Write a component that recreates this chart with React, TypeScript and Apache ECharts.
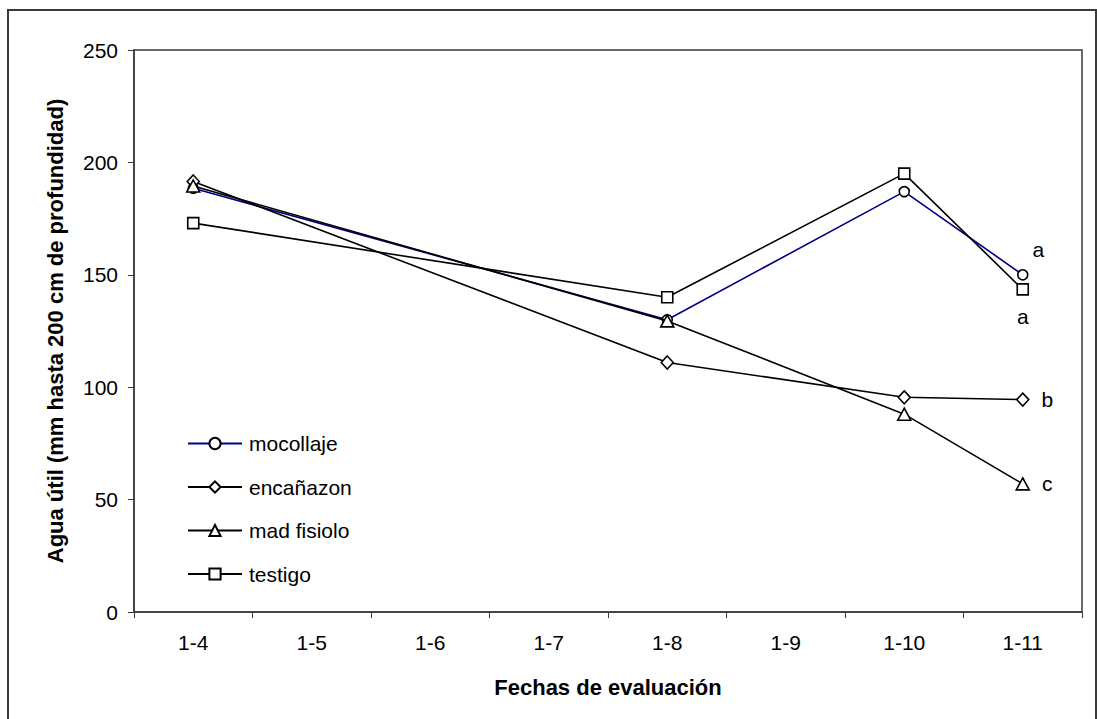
import React, { useEffect, useRef } from "react";
import * as echarts from "echarts";

const categories = ["1-4", "1-5", "1-6", "1-7", "1-8", "1-9", "1-10", "1-11"];
const mocollaje = [188.5, null, null, null, 130, null, 187, 150];
const encanazon = [191.5, null, null, null, 111, null, 95.5, 94.5];
const madFisiolo = [189.5, null, null, null, 129.5, null, 88, 57];
const testigo = [173, null, null, null, 140, null, 195, 143.5];
const seriesNames = ["mocollaje", "encañazon", "mad fisiolo", "testigo"];
const endLetters = ["a", "b", "c", "a"];
const yTicks = [0, 50, 100, 150, 200, 250];

const FONT = "'Liberation Sans', Arial, sans-serif";

function withEndLabel(values: (number | null)[], letter: string, label: any) {
  return values.map((v, i) =>
    i === values.length - 1 && v != null
      ? { value: v, label: { show: true, formatter: letter, ...label } }
      : v
  );
}

export default function App() {
  const ref = useRef<HTMLDivElement>(null);
  useEffect(() => {
    if (!ref.current) return;
    const chart = echarts.init(ref.current, undefined, { renderer: "svg" });
    const labelText = { color: "#000", fontSize: 21, fontFamily: FONT };
    const common = {
      type: "line",
      connectNulls: true,
      showAllSymbol: true,
      itemStyle: { color: "#fff", borderColor: "#000", borderWidth: 1.6 },
      emphasis: { disabled: true },
    };
    chart.setOption({
      animation: false,
      backgroundColor: "#fff",
      graphic: [
        {
          type: "rect",
          shape: { x: 8, y: 10, width: 1088, height: 730 },
          style: { fill: "none", stroke: "#3a3a3a", lineWidth: 2 },
          silent: true,
        },
      ],
      grid: {
        left: 134,
        top: 50,
        right: 15,
        bottom: 107,
        show: true,
        borderColor: "#3a3a3a",
        borderWidth: 1.5,
        backgroundColor: "transparent",
      },
      legend: {
        left: 182,
        top: 428,
        orient: "vertical",
        itemWidth: 54,
        itemHeight: 14,
        itemGap: 22.5,
        data: seriesNames,
        textStyle: { color: "#000", fontSize: 21, fontFamily: FONT, padding: [0, 0, 0, 2] },
      },
      xAxis: {
        type: "category",
        data: categories,
        boundaryGap: true,
        name: "Fechas de evaluación",
        nameLocation: "middle",
        nameGap: 64,
        nameTextStyle: { color: "#000", fontSize: 22, fontWeight: "bold", fontFamily: FONT },
        axisLine: { lineStyle: { color: "#3a3a3a", width: 1.5 } },
        axisTick: { show: true, length: 6, inside: false, lineStyle: { color: "#3a3a3a" } },
        axisLabel: { color: "#000", fontSize: 21, fontFamily: FONT, margin: 20 },
        splitLine: { show: false },
      },
      yAxis: {
        type: "value",
        min: yTicks[0],
        max: yTicks[yTicks.length - 1],
        interval: 50,
        name: "Agua útil (mm hasta 200 cm de profundidad)",
        nameLocation: "middle",
        nameGap: 68,
        nameTextStyle: { color: "#000", fontSize: 22, fontWeight: "bold", fontFamily: FONT },
        axisLine: { show: true, lineStyle: { color: "#3a3a3a", width: 1.5 } },
        axisTick: { show: true, length: 6, lineStyle: { color: "#3a3a3a" } },
        axisLabel: { color: "#000", fontSize: 21, fontFamily: FONT, margin: 16 },
        splitLine: { show: false },
      },
      series: [
        {
          ...common,
          name: seriesNames[0],
          data: withEndLabel(mocollaje, endLetters[0], { ...labelText, position: "right", distance: 4, offset: [0, -25] }),
          symbol: "circle",
          symbolSize: 10,
          lineStyle: { color: "#000080", width: 1.6 },
          z: 2,
        },
        {
          ...common,
          name: seriesNames[1],
          data: withEndLabel(encanazon, endLetters[1], { ...labelText, position: "right", distance: 12 }),
          symbol: "diamond",
          symbolSize: [12, 13],
          lineStyle: { color: "#000", width: 1.6 },
          z: 3,
        },
        {
          ...common,
          name: seriesNames[2],
          data: withEndLabel(madFisiolo, endLetters[2], { ...labelText, position: "right", distance: 12 }),
          symbol: "triangle",
          symbolSize: [13, 12],
          lineStyle: { color: "#000", width: 1.6 },
          z: 4,
        },
        {
          ...common,
          name: seriesNames[3],
          data: withEndLabel(testigo, endLetters[3], { ...labelText, position: "bottom", distance: 10 }),
          symbol: "rect",
          symbolSize: 11,
          lineStyle: { color: "#000", width: 1.6 },
          z: 5,
        },
      ],
    });
    return () => chart.dispose();
  }, []);
  return (
    <div
      ref={ref}
      style={{ position: "fixed", left: 0, top: 0, width: 1097, height: 719 }}
    />
  );
}
